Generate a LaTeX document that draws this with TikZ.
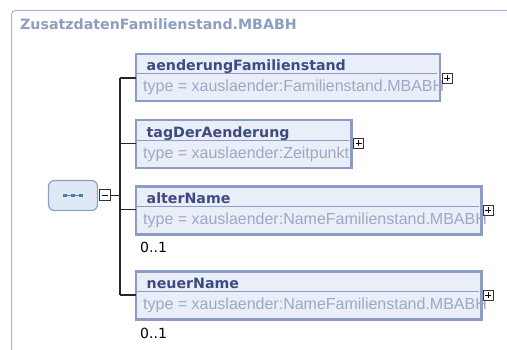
\documentclass[tikz,border=0pt]{standalone}
\usepackage{fontspec}
\usetikzlibrary{calc}
\setmainfont{DejaVu Sans}
\newfontfamily\typefont{Liberation Sans}
\definecolor{frameC}{HTML}{A8B8D8}
\definecolor{titleC}{HTML}{8E9EC2}
\definecolor{boxB}{HTML}{8C9CC4}
\definecolor{boxF}{HTML}{E9EEF8}
\definecolor{nameC}{HTML}{3D4B80}
\definecolor{typeC}{HTML}{9EA8C4}
\definecolor{seqF}{HTML}{DFE8F5}
\definecolor{seqB}{HTML}{8CA2C4}
\definecolor{dotC}{HTML}{4A7EB5}
\begin{document}
\begin{tikzpicture}[x=1pt,y=-1pt,
  elbox/.style={draw=boxB,line width=2.6pt,fill=boxF},
  sepline/.style={draw=boxB,line width=1pt},
  nametext/.style={anchor=base west,inner sep=0pt,text=nameC,font=\fontsize{14.2}{15}\selectfont\bfseries},
  typetext/.style={anchor=base west,inner sep=0pt,text=typeC,font=\typefont\fontsize{16}{17}\selectfont},
  occtext/.style={anchor=base west,inner sep=0pt,text=black,font=\fontsize{14}{15}\selectfont},
  pm/.style={draw=black!80,line width=1pt,fill=white},
  conn/.style={draw=black!85,line width=1.3pt}]
\useasboundingbox (0,0) rectangle (507,350);
\fill[white] (0,0) rectangle (507,350);
% outer frame
\draw[frameC,line width=1pt,rounded corners=4pt] (11.5,352) -- (11.5,10.5) -- (510,10.5);
\node[anchor=base west,inner sep=0pt,text=titleC,font=\fontsize{14.2}{15}\selectfont\bfseries] (title) at (20,29.3) {ZusatzdatenFamilienstand.MBABH};
% sequence node
\node[draw=seqB,fill=seqF,line width=1.2pt,rounded corners=6pt,minimum width=49pt,minimum height=30pt,inner sep=0pt] (seq) at (73,195.5) {};
\foreach \dx in {-8,0,8}{\fill[dotC] ($(seq.center)+(\dx,0)+(-1.6,-1.6)$) rectangle +(3.2,3.2);}
\draw[dotC,line width=0.7pt] ($(seq.center)+(-8,0)$) -- ($(seq.center)+(8,0)$);
\node[pm,minimum size=11pt,inner sep=0pt] (minus) at (104.5,195.5) {};
\draw[line width=1pt] ($(minus.center)+(-3,0)$) -- ($(minus.center)+(3,0)$);
\coordinate (hub) at (120,195.5);
\draw[conn] (minus.east) -- (hub);
% box 1
\draw[elbox] (136,54) rectangle (440,101);
\draw[sepline] (136,74) -- (437,74);
\node[nametext] (n1) at (146.5,71) {aenderungFamilienstand};
\node[typetext] (t1) at (143,91.5) {type = xauslaender:Familienstand.MBABH};
\node[pm,minimum size=10pt,inner sep=0pt] (p1) at (447,78.5) {};
% box 2
\draw[elbox] (136,120) rectangle (351.5,168);
\draw[sepline] (136,141) -- (349,141);
\node[nametext] (n2) at (146.5,137.3) {tagDerAenderung};
\node[typetext] (t2) at (143,158.3) {type = xauslaender:Zeitpunkt};
\node[pm,minimum size=10pt,inner sep=0pt] (p2) at (358.5,143.5) {};
% box 3
\draw[elbox] (136,186.5) rectangle (481.5,234.5);
\draw[sepline] (136,207) -- (479,207);
\node[nametext] (n3) at (146.5,203.3) {alterName};
\node[typetext] (t3) at (143,224.5) {type = xauslaender:NameFamilienstand.MBABH};
\node[pm,minimum size=10pt,inner sep=0pt] (p3) at (488,210.5) {};
\node[occtext] (o3) at (140,252.3) {0..1};
% box 4
\draw[elbox] (136,271.5) rectangle (481.5,319.5);
\draw[sepline] (136,291.5) -- (479,291.5);
\node[nametext] (n4) at (146.5,288.3) {neuerName};
\node[typetext] (t4) at (143,310) {type = xauslaender:NameFamilienstand.MBABH};
\node[pm,minimum size=10pt,inner sep=0pt] (p4) at (488,295.5) {};
\node[occtext] (o4) at (140,338.3) {0..1};
% plus signs
\foreach \p in {p1,p2,p3,p4}{
  \draw[line width=0.9pt] ($(\p.center)+(-3,0)$) -- ($(\p.center)+(3,0)$);
  \draw[line width=0.9pt] ($(\p.center)+(0,-3)$) -- ($(\p.center)+(0,3)$);
}
% connectors
\coordinate (c1) at (120,78);
\coordinate (c4) at (120,295);
\draw[conn] (c1) -- (c4);
\draw[conn] (c1) -- (136,78);
\draw[conn] (120,143.5) -- (136,143.5);
\draw[conn] (120,209.5) -- (136,209.5);
\draw[conn] (c4) -- (136,295);
\end{tikzpicture}
\end{document}
